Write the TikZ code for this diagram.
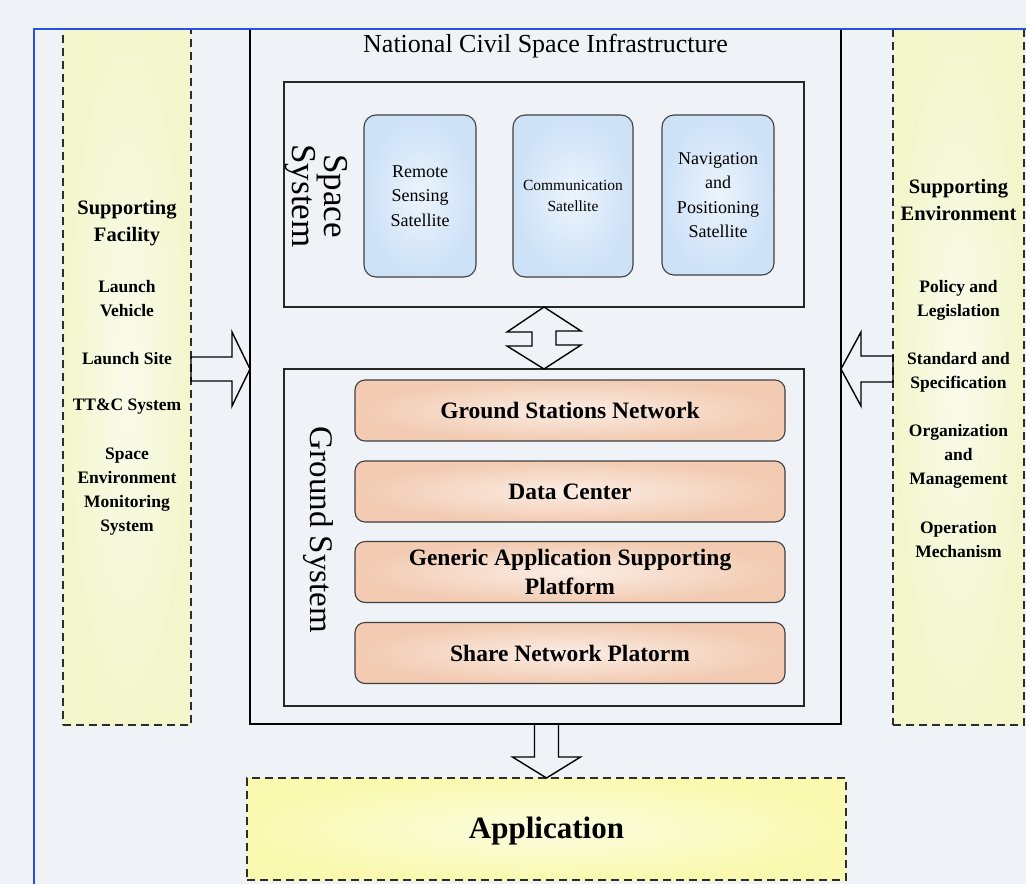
\documentclass[tikz,border=0pt]{standalone}
\usepackage{fontspec}
\setmainfont{Liberation Serif}
\usetikzlibrary{calc}

\definecolor{bgblue}{RGB}{239,243,248}
\definecolor{frameblue}{RGB}{40,80,225}
\definecolor{colyellow}{RGB}{243,246,203}
\definecolor{colyellowin}{RGB}{250,251,236}
\definecolor{appyellow}{RGB}{249,250,176}
\definecolor{appyellowin}{RGB}{252,252,224}
\definecolor{satblue}{RGB}{205,225,247}
\definecolor{satbluein}{RGB}{236,244,252}
\definecolor{grdorange}{RGB}{242,203,178}
\definecolor{grdorangein}{RGB}{251,237,228}
\definecolor{dashgrey}{RGB}{45,45,45}

\tikzset{
  supportbox/.style={draw=dashgrey, line width=1.6pt, dash pattern=on 8pt off 5pt,
    inner color=colyellowin, outer color=colyellow, inner sep=0pt, outer sep=0pt, anchor=north west},
  appbox/.style={draw=dashgrey, line width=1.6pt, dash pattern=on 8pt off 5pt,
    inner color=appyellowin, outer color=appyellow, inner sep=0pt, outer sep=0pt, anchor=north west},
  mainbox/.style={draw=black, line width=2.5pt, inner sep=0pt, outer sep=0pt, anchor=north west},
  subbox/.style={draw=black!85, line width=1.2pt, inner sep=0pt, outer sep=0pt, anchor=north west},
  satbox/.style={draw=black!75, line width=1.1pt, rounded corners=12pt, inner color=satbluein,
    outer color=satblue, align=center, font=\fontsize{18}{24.5}\selectfont},
  grdbox/.style={draw=black!75, line width=1.1pt, rounded corners=10pt, inner color=grdorangein,
    outer color=grdorange, align=center, minimum width=430pt, minimum height=61pt,
    font=\fontsize{23.5}{29}\selectfont\bfseries},
  colhead/.style={align=center, font=\fontsize{20.5}{27}\selectfont\bfseries},
  colitem/.style={align=center, font=\fontsize{17.5}{24}\selectfont\bfseries},
  blockarrow/.style={draw=black, line width=1.4pt, line join=miter}
}

\begin{document}
\begin{tikzpicture}[x=1pt, y=-1pt]
  \useasboundingbox (0,0) rectangle (1026,884);
  \fill[bgblue] (0,0) rectangle (1026,884);

  \begin{scope}
    \clip (34,29) rectangle (1026,884);

    % supporting columns
    \node[supportbox, minimum width=128pt, minimum height=711pt] (fac) at (63,14) {};
    \node[supportbox, minimum width=131pt, minimum height=711pt] (env) at (893,14) {};

    % infrastructure
    \node[mainbox, minimum width=591pt, minimum height=710pt] (nci) at (250,14) {};
    \node[font=\fontsize{26}{30}\selectfont] (ncititle) at (545.5,46) {National Civil Space Infrastructure};

    \node[subbox, minimum width=520pt, minimum height=225pt] (space) at (284,82) {};
    \node[subbox, minimum width=520pt, minimum height=337pt] (ground) at (284,369) {};

    \node[rotate=-90, align=center, font=\fontsize{35}{30}\selectfont] (spacelabel) at (316,196) {Space\\System};
    \node[rotate=-90, font=\fontsize{33}{36}\selectfont] (groundlabel) at (318,530) {Ground System};

    % satellites
    \node[satbox, minimum width=112pt, minimum height=162pt] (remote) at (420,196) {Remote\\Sensing\\Satellite};
    \node[satbox, minimum width=120pt, minimum height=162pt, font=\fontsize{15.5}{21}\selectfont] (comm) at (573,196) {Communication\\Satellite};
    \node[satbox, minimum width=112pt, minimum height=160pt] (navi) at (718,195) {Navigation\\and\\Positioning\\Satellite};

    % ground system
    \node[grdbox] (stations) at (570,410.5) {Ground Stations Network};
    \node[grdbox] (datacenter) at (570,491.5) {Data Center};
    \node[grdbox] (generic) at (570,572) {Generic Application Supporting\\Platform};
    \node[grdbox] (share) at (570,653) {Share Network Platorm};

    % application
    \node[appbox, minimum width=599pt, minimum height=102pt] (app) at (247,778) {};
    \node[font=\fontsize{31}{36}\selectfont\bfseries] (applabel) at ($(app.center)+(0,2)$) {Application};

    % column texts
    \node[colhead] (fachead) at (127,223) {Supporting\\Facility};
    \node[colitem] (vehicle) at (127,299) {Launch\\Vehicle};
    \node[colitem] (site) at (127,359) {Launch Site};
    \node[colitem] (ttc) at (127,407) {TT\&C System};
    \node[colitem] (monitor) at (127,492) {Space\\Environment\\Monitoring\\System};

    \node[colhead] (envhead) at (958.5,200) {Supporting\\Environment};
    \node[colitem] (policy) at (958.5,300) {Policy and\\Legislation};
    \node[colitem] (standard) at (958.5,372) {Standard and\\Specification};
    \node[colitem] (organ) at (958.5,456) {Organization\\and\\Management};
    \node[colitem] (operation) at (958.5,540) {Operation\\Mechanism};

    % block arrows
    \draw[blockarrow] (fac.east |- nci.west) ++(0,-12) -- ++(41,0) -- ++(0,-25) -- (nci.west)
      -- ++(-18,37) -- ++(0,-25) -- ++(-41,0) -- cycle;
    \draw[blockarrow] (env.west |- nci.east) ++(0,-13) -- ++(-32,0) -- ++(0,-24) -- (nci.east)
      -- ++(20,37) -- ++(0,-24) -- ++(32,0) -- cycle;
    \draw[blockarrow] (space.south) -- ++(37,24) -- ++(-25,0) -- ++(0,14) -- ++(25,0) -- (ground.north)
      -- ++(-37,-23) -- ++(25,0) -- ++(0,-14) -- ++(-25,0) -- cycle;
    \draw[blockarrow] (nci.south) ++(-11,0) -- ++(0,33) -- ++(-22,0) -- (app.north)
      -- ++(34,-21) -- ++(-22,0) -- ++(0,-33) -- cycle;
  \end{scope}

  % frame
  \draw[frameblue, line width=2.2pt] (34,884) -- (34,29) -- (1026,29);
\end{tikzpicture}
\end{document}
